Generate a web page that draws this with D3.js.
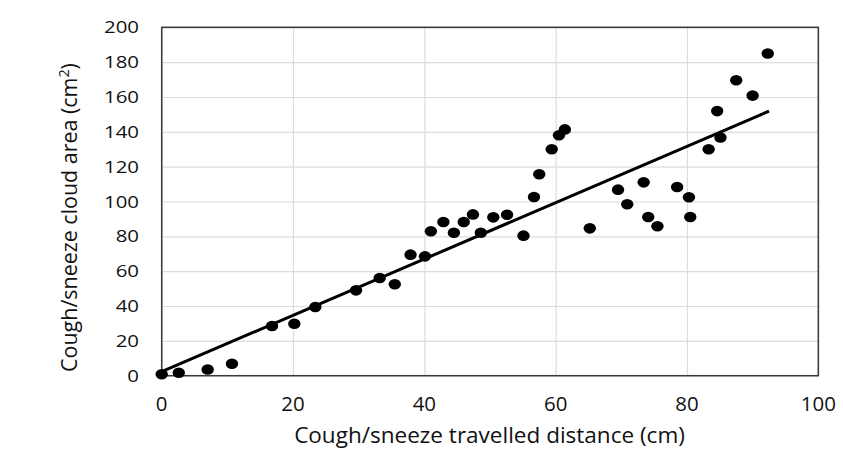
<!DOCTYPE html>
<html>
<head>
<meta charset="utf-8">
<script src="https://cdn.jsdelivr.net/npm/d3@7"></script>
<style>
  body { margin: 0; background: #fff; }
  text { font-family: "Open Sans", sans-serif; fill: #111; }
</style>
</head>
<body>
<div id="chart"></div>
<script>
// measured points (distance in cm, area in cm2)
var distance = [0, 2.6, 7.0, 10.7, 16.8, 20.2, 23.4, 29.6, 33.2, 35.5, 37.9, 40.1,
                41.0, 42.9, 44.5, 46.0, 47.4, 48.6, 50.5, 52.6, 55.1, 56.7, 57.5, 59.4,
                60.5, 61.4, 65.2, 69.5, 70.9, 73.4, 74.1, 75.5, 78.5, 80.3, 80.5, 83.3,
                84.6, 85.1, 87.5, 90.0, 92.3];
var area = [0.8, 1.7, 3.6, 6.9, 28.5, 29.8, 39.4, 49.0, 56.1, 52.5, 69.5, 68.5,
            82.9, 88.2, 82.1, 88.2, 92.6, 82.1, 90.9, 92.4, 80.4, 102.6, 115.6, 130.0,
            138.0, 141.4, 84.6, 106.8, 98.4, 111.0, 91.1, 85.8, 108.3, 102.4, 91.1, 130.0,
            151.9, 136.7, 169.6, 160.8, 185.0];

// linear trend line ends
var trendX = [0, 92.5];
var trendY = [2.3, 151.9];

var xTicks = [0, 20, 40, 60, 80, 100];
var yTicks = [0, 20, 40, 60, 80, 100, 120, 140, 160, 180, 200];

var W = 843, H = 456;
var margin = {top: 27.3, right: 24.7, bottom: 80.3, left: 161.7},
    width = W - margin.left - margin.right,
    height = H - margin.top - margin.bottom;

var svg = d3.select("#chart").append("svg")
    .attr("width", W)
    .attr("height", H);

var g = svg.append("g")
    .attr("transform", "translate(" + margin.left + "," + margin.top + ")");

var x = d3.scaleLinear().domain([0, 100]).range([0, width]);
var y = d3.scaleLinear().domain([0, 200]).range([height, 0]);

// gridlines
g.append("g")
    .call(d3.axisLeft(y).tickValues(yTicks).tickSize(-width).tickFormat(""))
    .call(function(s) {
        s.select(".domain").remove();
        s.selectAll("line").attr("stroke", "#dcdcdc").attr("stroke-width", 1.2);
    });
g.append("g")
    .attr("transform", "translate(0," + height + ")")
    .call(d3.axisBottom(x).tickValues(xTicks).tickSize(-height).tickFormat(""))
    .call(function(s) {
        s.select(".domain").remove();
        s.selectAll("line").attr("stroke", "#dcdcdc").attr("stroke-width", 1.2);
    });

// plot border
g.append("rect")
    .attr("width", width)
    .attr("height", height)
    .attr("fill", "none")
    .attr("stroke", "#3a3a3a")
    .attr("stroke-width", 1.5);

// tick labels (digits in the reference are ~11.7px wide each)
var digitW = 11.7;
function stretch(sel, targetW) {
    sel.each(function(d) {
        var t = d3.select(this);
        var w = this.getBBox().width;
        var sx = targetW(d) / w;
        t.attr("transform", t.attr("transform") + " scale(" + sx + ",1)");
    });
}

var yLab = g.selectAll("text.ytick")
    .data(yTicks)
    .enter().append("text")
    .attr("class", "ytick")
    .attr("transform", function(d) { return "translate(" + (139 - margin.left) + "," + (y(d) + 6) + ")"; })
    .attr("text-anchor", "end")
    .style("font-size", "17px")
    .text(function(d) { return d; });
stretch(yLab, function(d) { return String(d).length * digitW; });

var xLab = g.selectAll("text.xtick")
    .data(xTicks)
    .enter().append("text")
    .attr("class", "xtick")
    .attr("transform", function(d) { return "translate(" + x(d) + "," + (410.5 - margin.top) + ")"; })
    .attr("text-anchor", "middle")
    .style("font-size", "19.5px")
    .text(function(d) { return d; });
stretch(xLab, function(d) { return String(d).length * digitW; });

// trend line
var line = d3.line()
    .x(function(d) { return x(d[0]); })
    .y(function(d) { return y(d[1]); });
g.append("path")
    .datum(d3.zip(trendX, trendY))
    .attr("d", line)
    .attr("fill", "none")
    .attr("stroke", "#000")
    .attr("stroke-width", 3);

// points
g.selectAll("ellipse.pt")
    .data(d3.zip(distance, area))
    .enter().append("ellipse")
    .attr("class", "pt")
    .attr("cx", function(d) { return x(d[0]); })
    .attr("cy", function(d) { return y(d[1]); })
    .attr("rx", 6.2)
    .attr("ry", 5.3)
    .attr("fill", "#000");

// axis titles
var xt = svg.append("text")
    .attr("transform", "translate(489.5,443)")
    .attr("text-anchor", "middle")
    .style("font-size", "21px")
    .text("Cough/sneeze travelled distance (cm)");
stretch(xt, function() { return 391; });

var yt = svg.append("text")
    .attr("transform", "translate(77,217.5) rotate(-90)")
    .attr("text-anchor", "middle")
    .style("font-size", "21px");
yt.append("tspan").text("Cough/sneeze cloud area (cm");
yt.append("tspan").attr("dy", -8).style("font-size", "14px").text("2");
yt.append("tspan").attr("dy", 8).text(")");
stretch(yt, function() { return 309; });
</script>
</body>
</html>
